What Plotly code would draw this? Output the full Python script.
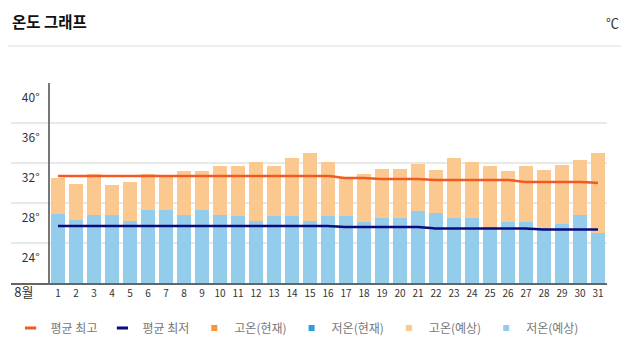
import plotly.graph_objects as go

days = list(range(1, 32))
day_labels = [str(d) for d in days]
month_label = "8월"

high_forecast = [30.5, 29.9, 30.9, 29.8, 30.1, 30.9, 30.7, 31.2, 31.2, 31.7, 31.7, 32.1, 31.7, 32.5, 33.0, 32.1,
                 30.5, 30.9, 31.4, 31.4, 31.9, 31.3, 32.5, 32.1, 31.7, 31.2, 31.7, 31.3, 31.8, 32.3, 33.0]
low_forecast = [26.9, 26.3, 26.8, 26.8, 26.2, 27.3, 27.3, 26.8, 27.3, 26.8, 26.7, 26.2, 26.7, 26.7, 26.2, 26.7,
                26.7, 26.1, 26.5, 26.5, 27.2, 27.0, 26.5, 26.5, 25.6, 26.1, 26.1, 25.5, 25.9, 26.8, 25.0]
avg_high = [30.7, 30.7, 30.7, 30.7, 30.7, 30.7, 30.7, 30.7, 30.7, 30.7, 30.7, 30.7, 30.7, 30.7, 30.7, 30.7,
            30.5, 30.5, 30.4, 30.4, 30.4, 30.3, 30.3, 30.3, 30.3, 30.3, 30.1, 30.1, 30.1, 30.1, 30.0]
avg_low = [25.7, 25.7, 25.7, 25.7, 25.7, 25.7, 25.7, 25.7, 25.7, 25.7, 25.7, 25.7, 25.7, 25.7, 25.7, 25.7,
           25.6, 25.6, 25.6, 25.6, 25.6, 25.45, 25.45, 25.45, 25.45, 25.45, 25.45, 25.35, 25.35, 25.35, 25.35]
high_current = []
low_current = []

y_ticks = [24, 28, 32, 36, 40]
y_tick_labels = ["24°", "28°", "32°", "36°", "40°"]

C_AVG_HIGH = "#f15a22"
C_AVG_LOW = "#0b0b7e"
C_HIGH_CUR = "#f7963b"
C_LOW_CUR = "#2f9fe0"
C_HIGH_FC = "#fbc98f"
C_LOW_FC = "#94cdeb"

FONT = "Noto Sans CJK KR"

# page body has an 8px default margin: figure is shifted by 8px, so size/positions compensate
W, H = 621, 349
ML, MT, MR, MB = 3, 75, 22, 74
PW, PH = W - ML - MR, H - MT - MB

fig = go.Figure()

# bars
fig.add_trace(go.Bar(x=days, y=high_forecast, marker_color=C_HIGH_FC, marker_line_width=0,
                     name="고온(예상)", legendgroup="hf", showlegend=False, hoverinfo="skip"))
fig.add_trace(go.Bar(x=days, y=low_forecast, marker_color=C_LOW_FC, marker_line_width=0,
                     name="저온(예상)", legendgroup="lf", showlegend=False, hoverinfo="skip"))
fig.add_trace(go.Bar(x=days[:len(high_current)], y=high_current, marker_color=C_HIGH_CUR,
                     name="고온(현재)", legendgroup="hc", showlegend=False))
fig.add_trace(go.Bar(x=days[:len(low_current)], y=low_current, marker_color=C_LOW_CUR,
                     name="저온(현재)", legendgroup="lc", showlegend=False))

# lines
fig.add_trace(go.Scatter(x=days, y=avg_high, mode="lines",
                         line=dict(color=C_AVG_HIGH, width=2.5, shape="spline", smoothing=0.5),
                         name="평균 최고", legendgroup="ah", showlegend=False))
fig.add_trace(go.Scatter(x=days, y=avg_low, mode="lines",
                         line=dict(color=C_AVG_LOW, width=2.5, shape="spline", smoothing=0.5),
                         name="평균 최저", legendgroup="al", showlegend=False))

# legend entries
legend_items = [
    ("평균 최고", C_AVG_HIGH, "line-ew", "ah"),
    ("평균 최저", C_AVG_LOW, "line-ew", "al"),
    ("고온(현재)", C_HIGH_CUR, "square", "hc"),
    ("저온(현재)", C_LOW_CUR, "square", "lc"),
    ("고온(예상)", C_HIGH_FC, "square", "hf"),
    ("저온(예상)", C_LOW_FC, "square", "lf"),
]
for name, col, sym, grp in legend_items:
    if sym == "line-ew":
        mk = dict(symbol=sym, size=8, line=dict(color=col, width=3), color=col)
    else:
        mk = dict(symbol=sym, size=6, color=col, line=dict(width=0))
    fig.add_trace(go.Scatter(x=[None], y=[None], mode="markers", marker=mk, name=name,
                             legendgroup=grp, showlegend=True))

fig.update_layout(
    width=W, height=H,
    margin=dict(l=ML, r=MR, t=MT, b=MB, autoexpand=False),
    paper_bgcolor="white", plot_bgcolor="white",
    barmode="overlay", bargap=0.22,
    font=dict(family=FONT, color="#333"),
    title=dict(text="온도 그래프", x=4 / W, xanchor="left", xref="container",
               y=1 - 15 / H, yanchor="middle", yref="container",
               font=dict(size=15.5, color="#111", family=FONT, weight="bold")),
    showlegend=True,
    legend=dict(orientation="h", x=0.48, xanchor="center", y=-0.225, yanchor="middle",
                font=dict(size=12, color="#777", family=FONT), itemwidth=30,
                bgcolor="rgba(0,0,0,0)", traceorder="normal"),
    xaxis=dict(range=[-1.611, 31.5], tickmode="array",
               tickvals=[-0.9] + days,
               ticktext=["<span style='font-size:13px'>" + month_label + "</span>"] + day_labels,
               tickfont=dict(size=10, color="#333", family=FONT), ticks="",
               showgrid=False, zeroline=False, showline=True, linecolor="#666", linewidth=2,
               fixedrange=True),
    yaxis=dict(range=[20, 40], tickmode="array", tickvals=y_ticks, ticktext=y_tick_labels,
               anchor="free", position=38 / PW, side="left",
               tickfont=dict(size=12, color="#333", family=FONT), ticks="",
               ticklabelshift=15, ticklabelstandoff=6,
               showgrid=True, gridcolor="#e9e9e9", gridwidth=2, zeroline=False,
               showline=True, linecolor="#777", linewidth=2, fixedrange=True),
    shapes=[dict(type="line", xref="paper", yref="paper", x0=-ML / PW, x1=(W - ML) / PW,
                 y0=1 + (MT - 38) / PH, y1=1 + (MT - 38) / PH, line=dict(color="#dddddd", width=1))],
    annotations=[dict(text="℃", xref="paper", yref="paper", x=(604 - ML) / PW, y=1 + (MT - 14.5) / PH,
                      xanchor="center", yanchor="middle", showarrow=False,
                      font=dict(size=13, color="#333", family=FONT))],
)

fig.write_html("out.html")
